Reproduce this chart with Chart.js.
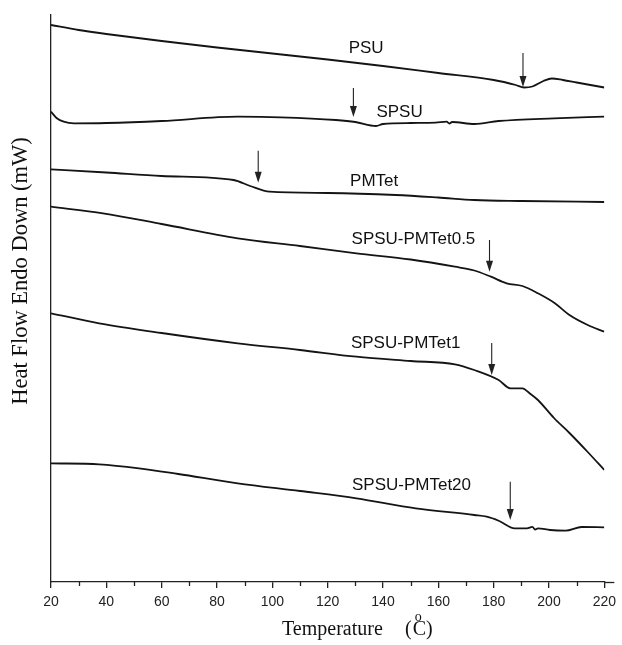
<!DOCTYPE html>
<html>
<head>
<meta charset="utf-8">
<script src="https://cdn.jsdelivr.net/npm/chart.js@4/dist/chart.umd.min.js"></script>
<style>
html, body { margin: 0; padding: 0; background: #fff; }
</style>
</head>
<body>
<canvas id="dscChart" width="622" height="645"></canvas>
<script>
// temperature (C) and heat flow (arbitrary units, curves stacked)
var psuT = [20, 30, 40, 60, 80, 100, 120, 140, 160, 180, 188, 191, 194, 198, 201, 205, 210, 220];
var psuV = [557, 552, 548, 541, 534.5, 528.5, 522.5, 516, 509, 502, 497, 494.5, 495.5, 501, 503.5, 502, 499.5, 494.5];

var spsuT = [20, 22, 24.6, 28.3, 40, 60, 87.5, 103, 123, 130, 137.5, 140, 150, 159, 163, 164, 165, 173, 181.8, 201.8, 220];
var spsuV = [470.3, 464, 460.3, 458.7, 459, 461, 465.3, 464.7, 462, 460, 456, 458, 459, 459.3, 460.3, 458.5, 460, 458, 461, 463.7, 465.3];

var pmtetT = [20, 40, 60, 86, 92, 99, 120, 144.6, 160, 173, 190, 220];
var pmtetV = [412.7, 409.5, 406, 402, 396, 390.3, 389, 387, 384.5, 382, 381, 380];

var blend05T = [20, 38.8, 60, 87.5, 110, 130.4, 150, 166, 173, 179, 184.7, 190.4, 196, 202, 207.4, 214, 220];
var blend05V = [375.3, 368.7, 358, 343.7, 336, 328.7, 322.5, 315.3, 311.5, 305.3, 298.7, 296, 288.7, 279, 267, 257, 250.3];

var blend1T = [20, 37.4, 60, 87.5, 110, 130.4, 150, 166, 173, 181.8, 186, 190.4, 193, 196, 201.8, 207.4, 214, 220];
var blend1V = [268.7, 258.7, 249, 238.7, 232, 225.3, 221, 217.7, 212, 202, 193.7, 193.7, 188.7, 182, 164, 149, 130, 112];

var blend20T = [20, 37.4, 51.8, 66, 87.5, 110, 130.4, 151.8, 173, 177.5, 182, 187.6, 192, 194, 195, 196, 200.4, 206, 211.8, 220];
var blend20V = [118.7, 117.7, 113.7, 108, 98.7, 91, 83.7, 73.7, 67, 65.3, 61, 53.7, 53.7, 55.2, 52.5, 53.7, 52, 51.3, 55, 54.7];

// curve names with label position (T, value)
var curveNames = ["PSU", "SPSU", "PMTet", "SPSU-PMTet0.5", "SPSU-PMTet1", "SPSU-PMTet20"];
var labelT = [133.9, 146, 136.8, 151, 148.2, 150.3];
var labelV = [533.5, 470, 400.3, 342.5, 238.7, 97];

// Tg arrows: temperature, top and tip value
var arrowT = [190.6, 129.3, 94.9, 178.5, 179.3, 186];
var arrowTop = [529, 494, 431.3, 342, 239, 100.3];
var arrowTip = [495, 465, 399.3, 310.3, 207, 62];

var xTicks = [20, 40, 60, 80, 100, 120, 140, 160, 180, 200, 220];

function pts(t, v) {
    return t.map(function (x, i) { return { x: x, y: v[i] }; });
}

var seriesT = [psuT, spsuT, pmtetT, blend05T, blend1T, blend20T];
var seriesV = [psuV, spsuV, pmtetV, blend05V, blend1V, blend20V];

var chartData = {
    datasets: curveNames.map(function (name, i) {
        return {
            label: name,
            data: pts(seriesT[i], seriesV[i]),
            borderColor: "#141414",
            borderWidth: 1.8,
            pointRadius: 0,
            cubicInterpolationMode: "monotone",
            fill: false
        };
    })
};

// labels, arrows, minor ticks and axis titles
var decorations = {
    id: "decorations",
    afterDraw: function (chart) {
        var ctx = chart.ctx, xs = chart.scales.x, ys = chart.scales.y, area = chart.chartArea;
        ctx.save();
        ctx.strokeStyle = "#222";
        ctx.fillStyle = "#222";

        // minor ticks
        ctx.lineWidth = 1.3;
        for (var m = 30; m < 220; m += 20) {
            var mx = Math.round(xs.getPixelForValue(m)) + 0.5;
            ctx.beginPath();
            ctx.moveTo(mx, area.bottom);
            ctx.lineTo(mx, area.bottom + 4);
            ctx.stroke();
        }
        // axis line runs a little past 220
        ctx.beginPath();
        ctx.moveTo(area.right, area.bottom + 0.5);
        ctx.lineTo(area.right + 10, area.bottom + 0.5);
        ctx.stroke();

        // arrows
        ctx.lineWidth = 1.1;
        for (var i = 0; i < arrowT.length; i++) {
            var ax = xs.getPixelForValue(arrowT[i]);
            var y0 = ys.getPixelForValue(arrowTop[i]);
            var y1 = ys.getPixelForValue(arrowTip[i]);
            ctx.beginPath();
            ctx.moveTo(ax, y0);
            ctx.lineTo(ax, y1 - 8);
            ctx.stroke();
            ctx.beginPath();
            ctx.moveTo(ax - 3.5, y1 - 11);
            ctx.lineTo(ax + 3.5, y1 - 11);
            ctx.lineTo(ax, y1);
            ctx.closePath();
            ctx.fill();
        }

        // curve labels
        ctx.fillStyle = "#111";
        ctx.font = "17px 'Liberation Sans', Arial, sans-serif";
        ctx.textAlign = "center";
        ctx.textBaseline = "middle";
        for (var k = 0; k < curveNames.length; k++) {
            ctx.fillText(curveNames[k], xs.getPixelForValue(labelT[k]), ys.getPixelForValue(labelV[k]));
        }

        // x title with superscript degree
        ctx.font = "20px 'Liberation Serif', 'Times New Roman', serif";
        ctx.textAlign = "left";
        ctx.textBaseline = "alphabetic";
        var base = 635;
        var sx = area.left + 231;
        ctx.fillText("Temperature", sx, base);
        var px = sx + 123;
        ctx.fillText("(", px, base);
        var cx = px + ctx.measureText("(").width + 1;
        ctx.fillText("C)", cx, base);
        ctx.font = "14px 'Liberation Serif', 'Times New Roman', serif";
        ctx.fillText("o", cx + 2, base - 14);

        // y title
        ctx.font = "22.5px 'Liberation Serif', 'Times New Roman', serif";
        ctx.textAlign = "center";
        ctx.textBaseline = "middle";
        ctx.translate(21, 271);
        ctx.rotate(-Math.PI / 2);
        ctx.fillText("Heat Flow Endo Down (mW)", 0, 0);
        ctx.restore();
    }
};

var config = {
    responsive: false,
    animation: false,
    layout: {
        padding: { top: 15, right: 16, left: 0, bottom: 0 }
    },
    plugins: {
        legend: { display: false },
        tooltip: { enabled: false },
        title: { display: false }
    },
    scales: {
        x: {
            type: "linear",
            min: 20,
            max: 220,
            afterFit: function (s) { s.height = 63; },
            afterBuildTicks: function (s) { s.ticks = xTicks.map(function (v) { return { value: v }; }); },
            border: { display: true, color: "#222", width: 1.3 },
            grid: { display: true, drawOnChartArea: false, drawTicks: true, tickLength: 6, color: "#222", lineWidth: 1.3 },
            ticks: {
                padding: 6,
                color: "#222",
                maxRotation: 0,
                font: { family: "'Liberation Sans', Arial, sans-serif", size: 14 }
            }
        },
        y: {
            type: "linear",
            min: 0,
            max: 567,
            afterFit: function (s) { s.width = 51; },
            border: { display: true, color: "#222", width: 1.3 },
            grid: { display: false },
            ticks: { display: false }
        }
    }
};

var ctx = document.getElementById("dscChart"),
    dscChart = new Chart(ctx, {
        type: "line",
        data: chartData,
        options: config,
        plugins: [decorations]
    });
</script>
</body>
</html>
